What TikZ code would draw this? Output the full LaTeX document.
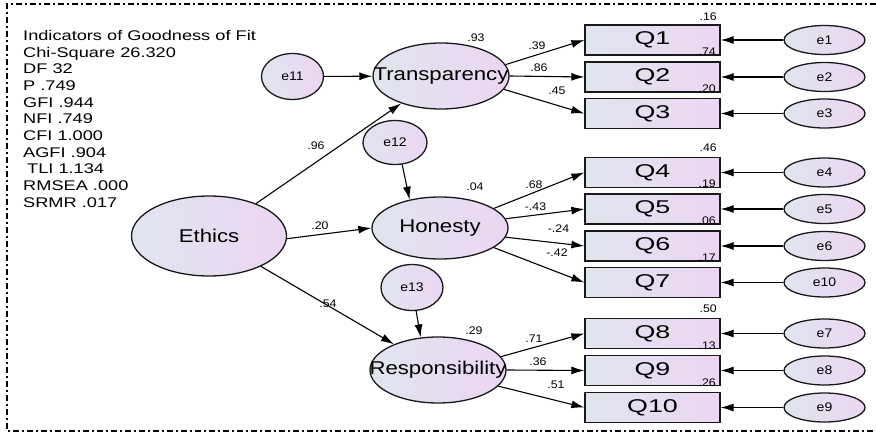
\documentclass[tikz,border=0pt]{standalone}
\usepackage{fontspec}
\setmainfont{Liberation Sans}
\newfontfamily\fInd[FakeStretch=1.3]{Liberation Sans}
\newfontfamily\fLat[FakeStretch=1.2]{Liberation Sans}
\newfontfamily\fQ[FakeStretch=1.45]{Liberation Sans}
\newfontfamily\fSm[FakeStretch=1.12]{Liberation Sans}
\usetikzlibrary{shapes.geometric,arrows.meta}
\definecolor{gl}{RGB}{224,229,238}
\definecolor{gr}{RGB}{236,214,242}
\newcommand\zb[1]{\makebox[0pt]{#1}}
\begin{document}
\begin{tikzpicture}[x=1pt,y=-1pt,
 base/.style={draw=black!90, line width=1.3pt, left color=gl, right color=gr, inner sep=0pt},
 latent/.style={base, ellipse, minimum width=136pt, minimum height=64pt, font=\fLat\fontsize{18.5}{20}\selectfont},
 err/.style={base, ellipse, minimum width=81pt, minimum height=29pt, font=\fSm\fontsize{12.5}{14}\selectfont},
 obs/.style={base, rectangle, minimum width=135pt, minimum height=30pt, font=\fQ\fontsize{18.5}{20}\selectfont},
 coef/.style={font=\fSm\fontsize{11}{12}\selectfont, inner sep=0pt},
 arr/.style={line width=1.1pt, -{Latex[length=13pt,width=8pt]}},
 border/.style={line width=1.2pt, dash pattern=on 6pt off 3pt on 2pt off 3pt},
]
\useasboundingbox (0,0) rectangle (876,433);
\draw[border] (876,4) -- (7,4) -- (7,431) -- (876,431);

\node[anchor=north west, align=left, inner sep=0pt, font=\fInd\fontsize{14}{16.7}\selectfont] (fit) at (23,30)
 {Indicators of Goodness of Fit\\Chi-Square 26.320\\DF 32\\P .749\\GFI .944\\NFI .749\\CFI 1.000\\AGFI .904\\\hspace{4pt}TLI 1.134\\RMSEA .000\\SRMR .017};

% latent
\node[latent, minimum width=155pt, minimum height=80pt] (E) at (209,236) {\zb{Ethics}};
\node[latent, minimum height=66pt] (T) at (441,76) {\zb{Transparency}};
\node[latent, minimum height=62pt] (H) at (440,228) {\zb{Honesty}};
\node[latent, minimum height=66pt] (R) at (438,370) {\zb{Responsibility}};

% disturbances
\node[err, minimum width=62pt, minimum height=46pt] (e11) at (292.5,76.5) {e11};
\node[err, minimum width=64pt, minimum height=44pt] (e12) at (395,142.5) {e12};
\node[err, minimum width=62pt, minimum height=46pt] (e13) at (412,287.5) {e13};

% observed
\foreach \n/\y/\e in {1/40/e1,2/77/e2,3/113.5/e3,4/172.5/e4,5/209/e5,6/246/e6,7/282.5/e10,8/333.5/e7,9/370.5/e8,10/407.5/e9}{
  \node[obs] (Q\n) at (652.5,\y) {Q\n};
  \node[err] (E\n) at (824.5,\y) {\e};
  \draw[arr] (E\n) -- (Q\n);
}

% structural paths
\draw[arr] (E) -- (T);
\draw[arr] (E.-2) -- (H.west);
\draw[arr] (E) -- (R);
\draw[arr] (e11) -- (T);
\draw[arr] (e12.-72) -- (H.137);
\draw[arr] (e13.-80) -- (R.118);

% measurement paths
\draw[arr] (T.10) -- (Q1.west);
\draw[arr] (T.0) -- (Q2.west);
\draw[arr] (T.-12) -- (Q3.west);
\draw[arr] (H.20) -- (Q4.west);
\draw[arr] (H.8) -- (Q5.west);
\draw[arr] (H.-8) -- (Q6.west);
\draw[arr] (H.-20) -- (Q7.west);
\draw[arr] (R.12) -- (Q8.west);
\draw[arr] (R.0) -- (Q9.west);
\draw[arr] (R.-15) -- (Q10.west);

% coefficients
\node[coef] (c96) at (316,146) {.96};
\node[coef] (c20) at (320,226) {.20};
\node[coef] (c54) at (328,304) {.54};
\node[coef] (c93) at (476,38) {.93};
\node[coef] (c39) at (537,46) {.39};
\node[coef] (c86) at (539,68) {.86};
\node[coef] (c45) at (557,91) {.45};
\node[coef] (c04) at (475,187) {.04};
\node[coef] (c68) at (534,185) {.68};
\node[coef] (c43) at (535.5,207) {-.43};
\node[coef] (c24) at (558.5,229) {-.24};
\node[coef] (c42) at (557,253) {-.42};
\node[coef] (c29) at (474,331) {.29};
\node[coef] (c71) at (534,339) {.71};
\node[coef] (c36) at (538,362) {.36};
\node[coef] (c51) at (556,385) {.51};

% squared multiple correlations
\node[coef, anchor=east] (r16) at (717,17) {.16};
\node[coef, anchor=east] (r46) at (717,148) {.46};
\node[coef, anchor=east] (r50) at (717,309) {.50};
\node[coef, anchor=base east] (r74) at (716,55.5) {.74};
\node[coef, anchor=base east] (r20) at (716,92.5) {.20};
\node[coef, anchor=base east] (r19) at (716,188) {.19};
\node[coef, anchor=base east] (r06) at (716,224.5) {.06};
\node[coef, anchor=base east] (r17) at (716,261.5) {.17};
\node[coef, anchor=base east] (r13) at (716,349) {.13};
\node[coef, anchor=base east] (r26) at (716,386) {.26};
\end{tikzpicture}
\end{document}
